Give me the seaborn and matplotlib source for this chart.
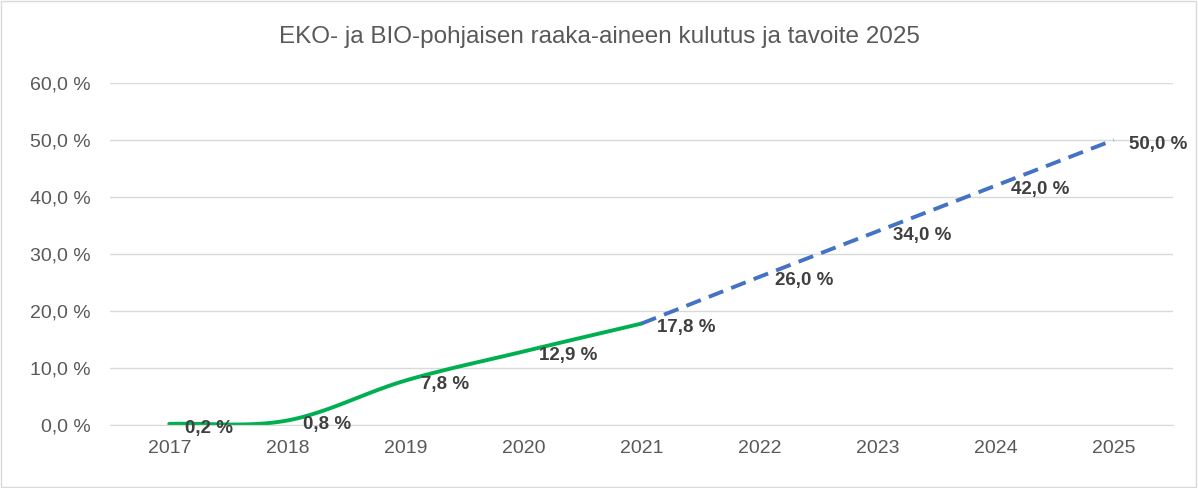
import numpy as np
import matplotlib
matplotlib.use("Agg")
import matplotlib.pyplot as plt
import seaborn as sns

# Data
years = ["2017", "2018", "2019", "2020", "2021", "2022", "2023", "2024", "2025"]
actual = [0.2, 0.8, 7.8, 12.9, 17.8]
target = [17.8, 26.0, 34.0, 42.0, 50.0]
y_ticks = [0, 10, 20, 30, 40, 50, 60]
title = "EKO- ja BIO-pohjaisen raaka-aineen kulutus ja tavoite 2025"


def catmull_rom(xs, ys, n=30):
    """Excel-style smoothed line through the given points."""
    xs = np.asarray(xs, float)
    ys = np.asarray(ys, float)
    px = np.concatenate([[2 * xs[0] - xs[1]], xs, [2 * xs[-1] - xs[-2]]])
    py = np.concatenate([[2 * ys[0] - ys[1]], ys, [2 * ys[-1] - ys[-2]]])
    out_x, out_y = [], []
    t = np.linspace(0, 1, n)
    for i in range(1, len(px) - 2):
        for p, out in ((px, out_x), (py, out_y)):
            p0, p1, p2, p3 = p[i - 1], p[i], p[i + 1], p[i + 2]
            seg = 0.5 * ((2 * p1) + (-p0 + p2) * t
                         + (2 * p0 - 5 * p1 + 4 * p2 - p3) * t ** 2
                         + (-p0 + 3 * p1 - 3 * p2 + p3) * t ** 3)
            out.extend(seg)
    return np.array(out_x), np.array(out_y)


sns.set_style("white")
plt.rcParams["font.family"] = "Liberation Sans"

fig = plt.figure(figsize=(11.98, 4.88), dpi=100)
ax = fig.add_axes([0.092, 0.129, 0.887, 0.701])

x_act = np.arange(len(actual))
x_tgt = np.arange(len(actual) - 1, len(years))

sx, sy = catmull_rom(x_act, actual)
sns.lineplot(x=sx, y=sy, ax=ax, color="#00B050", linewidth=2.8, sort=False)
ax.plot(x_tgt, target, color="#4472C4", linewidth=2.8, linestyle=(0, (4, 2.2)))

labels_x = list(x_act) + list(x_tgt[1:])
labels_y = actual + target[1:]
for xv, yv in zip(labels_x, labels_y):
    ax.annotate(f"{yv:.1f} %".replace(".", ","), (xv, yv), xytext=(11, -3),
                textcoords="offset points", ha="left", va="center",
                fontsize=13.5, fontweight="bold", color="#404040")

ax.set_xlim(-0.5, len(years) - 0.5)
ax.set_ylim(0, 60)
ax.set_xticks(range(len(years)))
ax.set_xticklabels(years)
ax.set_yticks(y_ticks)
ax.set_yticklabels([f"{v:.1f} %".replace(".", ",") for v in y_ticks])
ax.tick_params(axis="both", colors="#595959", labelsize=14, length=0)
ax.tick_params(axis="y", pad=14)
ax.tick_params(axis="x", pad=11)
ax.grid(axis="y", color="#D9D9D9", linewidth=1)
for s in ["top", "right", "left"]:
    ax.spines[s].set_visible(False)
ax.spines["bottom"].set_color("#D9D9D9")
ax.set_axisbelow(True)

fig.text(0.5, 0.925, title, ha="center", va="center", fontsize=17.5, color="#595959")
fig.patches.append(plt.Rectangle((0.001, 0.002), 0.997, 0.995, transform=fig.transFigure,
                                 fill=False, edgecolor="#D9D9D9", linewidth=1))

fig.savefig("out.png", dpi=100)
